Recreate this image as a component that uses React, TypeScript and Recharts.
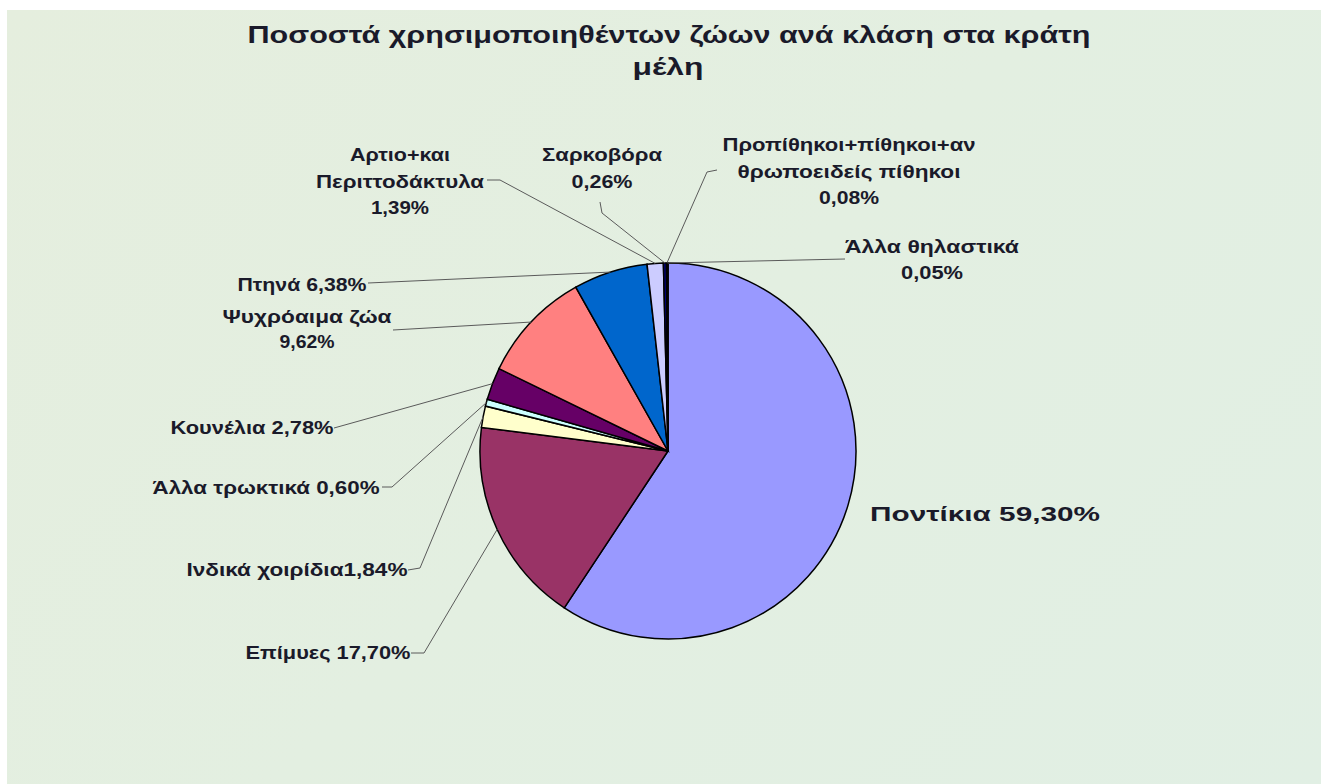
import React from "react";
import { PieChart, Pie, Cell } from "recharts";

// ---- data ----
const categories: string[] = [
  "Ποντίκια",
  "Επίμυες",
  "Ινδικά χοιρίδια",
  "Άλλα τρωκτικά",
  "Κουνέλια",
  "Ψυχρόαιμα ζώα",
  "Πτηνά",
  "Αρτιο+και Περιττοδάκτυλα",
  "Σαρκοβόρα",
  "Προπίθηκοι+πίθηκοι+ανθρωποειδείς πίθηκοι",
  "Άλλα θηλαστικά",
];
const values: number[] = [59.3, 17.7, 1.84, 0.6, 2.78, 9.62, 6.38, 1.39, 0.26, 0.08, 0.05];
const colors: string[] = [
  "#9999FF",
  "#993366",
  "#FFFFCC",
  "#CCFFFF",
  "#660066",
  "#FF8080",
  "#0066CC",
  "#CCCCFF",
  "#000080",
  "#FF00FF",
  "#FFFF00",
];
// how each label's name is broken into lines; "%" = the formatted value
const labelNameLines: string[][] = [
  ["Ποντίκια %"],
  ["Επίμυες %"],
  ["Ινδικά χοιρίδια%"],
  ["Άλλα τρωκτικά %"],
  ["Κουνέλια %"],
  ["Ψυχρόαιμα ζώα", "%"],
  ["Πτηνά %"],
  ["Αρτιο+και", "Περιττοδάκτυλα", "%"],
  ["Σαρκοβόρα", "%"],
  ["Προπίθηκοι+πίθηκοι+αν", "θρωποειδείς πίθηκοι", "%"],
  ["Άλλα θηλαστικά", "%"],
];
const titleLines: string[] = ["Ποσοστά χρησιμοποιηθέντων ζώων ανά κλάση στα κράτη", "μέλη"];

const data = categories.map((name, i) => ({ name, value: values[i] }));

// ---- layout (relative to pie centre) ----
type LabelLayout = {
  dx: number;
  dy: number;
  lh: number;
  fs: number;
  widths: number[];
  leader: number[][];
};
const labelLayout: LabelLayout[] = [
  { dx: 317, dy: 70, lh: 0, fs: 21, widths: [230], leader: [] },
  { dx: -340, dy: 208, lh: 0, fs: 18, widths: [165], leader: [[-257, 202], [-244, 202]] },
  { dx: -371, dy: 125, lh: 0, fs: 18, widths: [221], leader: [[-260, 119], [-248, 117]] },
  { dx: -402, dy: 43, lh: 0, fs: 18, widths: [227], leader: [[-286, 36], [-276, 36]] },
  { dx: -416, dy: -17, lh: 0, fs: 18, widths: [163], leader: [[-334, -23]] },
  { dx: -361, dy: -128, lh: 25, fs: 18, widths: [169, 55], leader: [[-275, -121]] },
  { dx: -366, dy: -160, lh: 0, fs: 18, widths: [129], leader: [[-300, -168]] },
  { dx: -268, dy: -290, lh: 26.5, fs: 18, widths: [100, 168, 58], leader: [[-181, -271], [-168, -271]] },
  { dx: -66, dy: -290, lh: 27, fs: 18, widths: [120, 61], leader: [[-68, -249], [-66, -238]] },
  { dx: 181, dy: -300, lh: 26.5, fs: 18, widths: [253, 223, 60], leader: [[49, -281], [39, -279]] },
  { dx: 264, dy: -198, lh: 26, fs: 18, widths: [174, 62], leader: [[177, -192]] },
];

const FONT = "'Liberation Sans', Arial, Helvetica, sans-serif";
const TEXT_COLOR = "#1a1a2a";
const RAD = Math.PI / 180;

const fmt = (v: number) => v.toFixed(2).replace(".", ",") + "%";

const renderLabel = (props: any) => {
  const { cx, cy, midAngle, outerRadius, index } = props;
  const lay = labelLayout[index];
  const lines = labelNameLines[index].map((l) => l.replace("%", fmt(values[index])));
  const ax = cx + outerRadius * Math.cos(-midAngle * RAD);
  const ay = cy + outerRadius * Math.sin(-midAngle * RAD);
  const pts = lay.leader.map((p) => [cx + p[0], cy + p[1]]);
  pts.push([ax, ay]);
  return (
    <g key={`lbl-${index}`}>
      {lay.leader.length > 0 && (
        <polyline
          points={pts.map((p) => p.join(",")).join(" ")}
          fill="none"
          stroke="#5a5a5a"
          strokeWidth={1}
        />
      )}
      {lines.map((t, k) => (
        <text
          key={k}
          x={cx + lay.dx}
          y={cy + lay.dy + k * lay.lh}
          textAnchor="middle"
          fontFamily={FONT}
          fontWeight="bold"
          fontSize={lay.fs}
          fill={TEXT_COLOR}
          textLength={lay.widths[k]}
          lengthAdjust="spacingAndGlyphs"
        >
          {t}
        </text>
      ))}
    </g>
  );
};

export default function App() {
  return (
    <div style={{ position: "absolute", left: 0, top: 0, width: 1321, height: 784, background: "#ffffff" }}>
      <div
        style={{
          position: "absolute",
          left: 7,
          top: 10,
          width: 1314,
          height: 774,
          background: "linear-gradient(135deg, #e5eede 0%, #e3efe1 50%, #e1efe4 100%)",
        }}
      />
      <svg
        width={1321}
        height={100}
        style={{ position: "absolute", left: 0, top: 0 }}
      >
        <text
          x={669}
          y={43}
          textAnchor="middle"
          fontFamily={FONT}
          fontWeight="bold"
          fontSize={24}
          fill={TEXT_COLOR}
          textLength={843}
          lengthAdjust="spacingAndGlyphs"
        >
          {titleLines[0]}
        </text>
        <text
          x={668}
          y={75}
          textAnchor="middle"
          fontFamily={FONT}
          fontWeight="bold"
          fontSize={24}
          fill={TEXT_COLOR}
          textLength={71}
          lengthAdjust="spacingAndGlyphs"
        >
          {titleLines[1]}
        </text>
      </svg>
      <div style={{ position: "absolute", left: 0, top: 0 }}>
        <PieChart width={1321} height={784} margin={{ top: 0, right: 0, bottom: 0, left: 0 }}>
          <Pie
            data={data}
            dataKey="value"
            nameKey="name"
            cx={668}
            cy={451}
            outerRadius={188}
            startAngle={90}
            endAngle={-270}
            stroke="#000000"
            strokeWidth={1.5}
            isAnimationActive={false}
            labelLine={false}
            label={renderLabel}
          >
            {data.map((d, i) => (
              <Cell key={d.name} fill={colors[i]} />
            ))}
          </Pie>
        </PieChart>
      </div>
    </div>
  );
}
